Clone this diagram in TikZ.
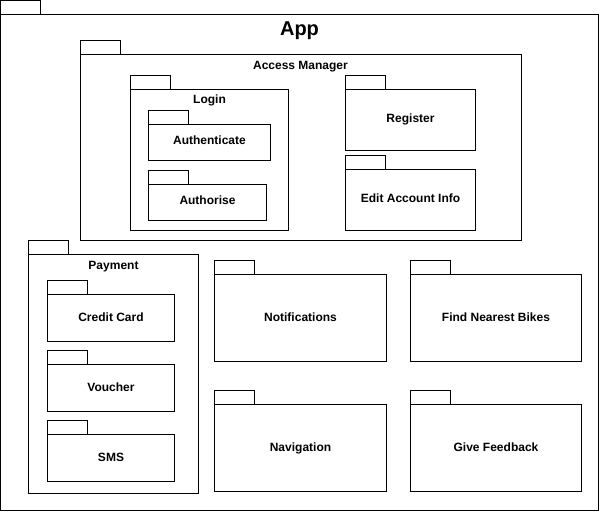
\documentclass[tikz,border=0pt]{standalone}
\usepackage{fontspec}
\setmainfont{Liberation Sans}
\tikzset{
  pkgshape/.style={draw=black, line width=1pt, fill=white, inner sep=0pt, outer sep=0pt, rectangle},
  lbl/.style={font=\bfseries\fontsize{12}{14}\selectfont, inner sep=0pt, outer sep=0pt, text height=8.6pt, text depth=0pt, anchor=center},
  biglbl/.style={font=\bfseries\fontsize{20}{24}\selectfont, inner sep=0pt, outer sep=0pt, text height=14.3pt, text depth=0pt, anchor=center}
}
% name, x0, tab top y0, x1, y1 (pixel indices)
\newcommand\umlpkg[5]{%
  \node[pkgshape, anchor=north west, minimum width={#4-#2}, minimum height={#5-#3-14}] (#1) at (#2+0.5,#3+14.5) {};
  \node[pkgshape, anchor=south west, minimum width=40, minimum height=14] (#1-tab) at (#1.north west) {};
}
\begin{document}
\begin{tikzpicture}[x=1pt,y=-1pt]
\useasboundingbox (0,0) rectangle (601,511);
\fill[white] (0,0) rectangle (601,511);
% App
\umlpkg{app}{0}{0}{598}{510}
\node[biglbl] (appl) at (299.5,28.7) {App};
% Access Manager
\umlpkg{am}{80}{40}{521}{240}
\node[lbl] (aml) at (300.5,65.5) {Access Manager};
\umlpkg{login}{130}{75}{288}{230}
\node[lbl] (loginl) at (209.5,99.5) {Login};
\umlpkg{authn}{148}{110}{270}{160}
\node[lbl] (authnl) at (209.5,140.5) {Authenticate};
\umlpkg{authz}{148}{170}{266}{220}
\node[lbl] (authzl) at (207.5,200.5) {Authorise};
\umlpkg{reg}{345}{75}{475}{150}
\node[lbl] (regl) at (410.5,118) {Register};
\umlpkg{edit}{345}{155}{475}{230}
\node[lbl] (editl) at (410.5,198.3) {Edit Account Info};
% Payment
\umlpkg{pay}{28}{240}{198}{493}
\node[lbl] (payl) at (113.5,265) {Payment};
\umlpkg{cc}{47}{280}{174}{341}
\node[lbl] (ccl) at (111,316.7) {Credit Card};
\umlpkg{vou}{47}{350}{174}{411}
\node[lbl] (voul) at (111,386.7) {Voucher};
\umlpkg{sms}{47}{420}{174}{481}
\node[lbl] (smsl) at (111,456.7) {SMS};
% Others
\umlpkg{notif}{214}{260}{386}{361}
\node[lbl] (notifl) at (300.5,316.7) {Notifications};
\umlpkg{nav}{214}{390}{386}{491}
\node[lbl] (navl) at (300.5,446.7) {Navigation};
\umlpkg{find}{410}{260}{581}{361}
\node[lbl] (findl) at (496,316.7) {Find Nearest Bikes};
\umlpkg{fb}{410}{390}{581}{491}
\node[lbl] (fbl) at (496,446.7) {Give Feedback};
\end{tikzpicture}
\end{document}
